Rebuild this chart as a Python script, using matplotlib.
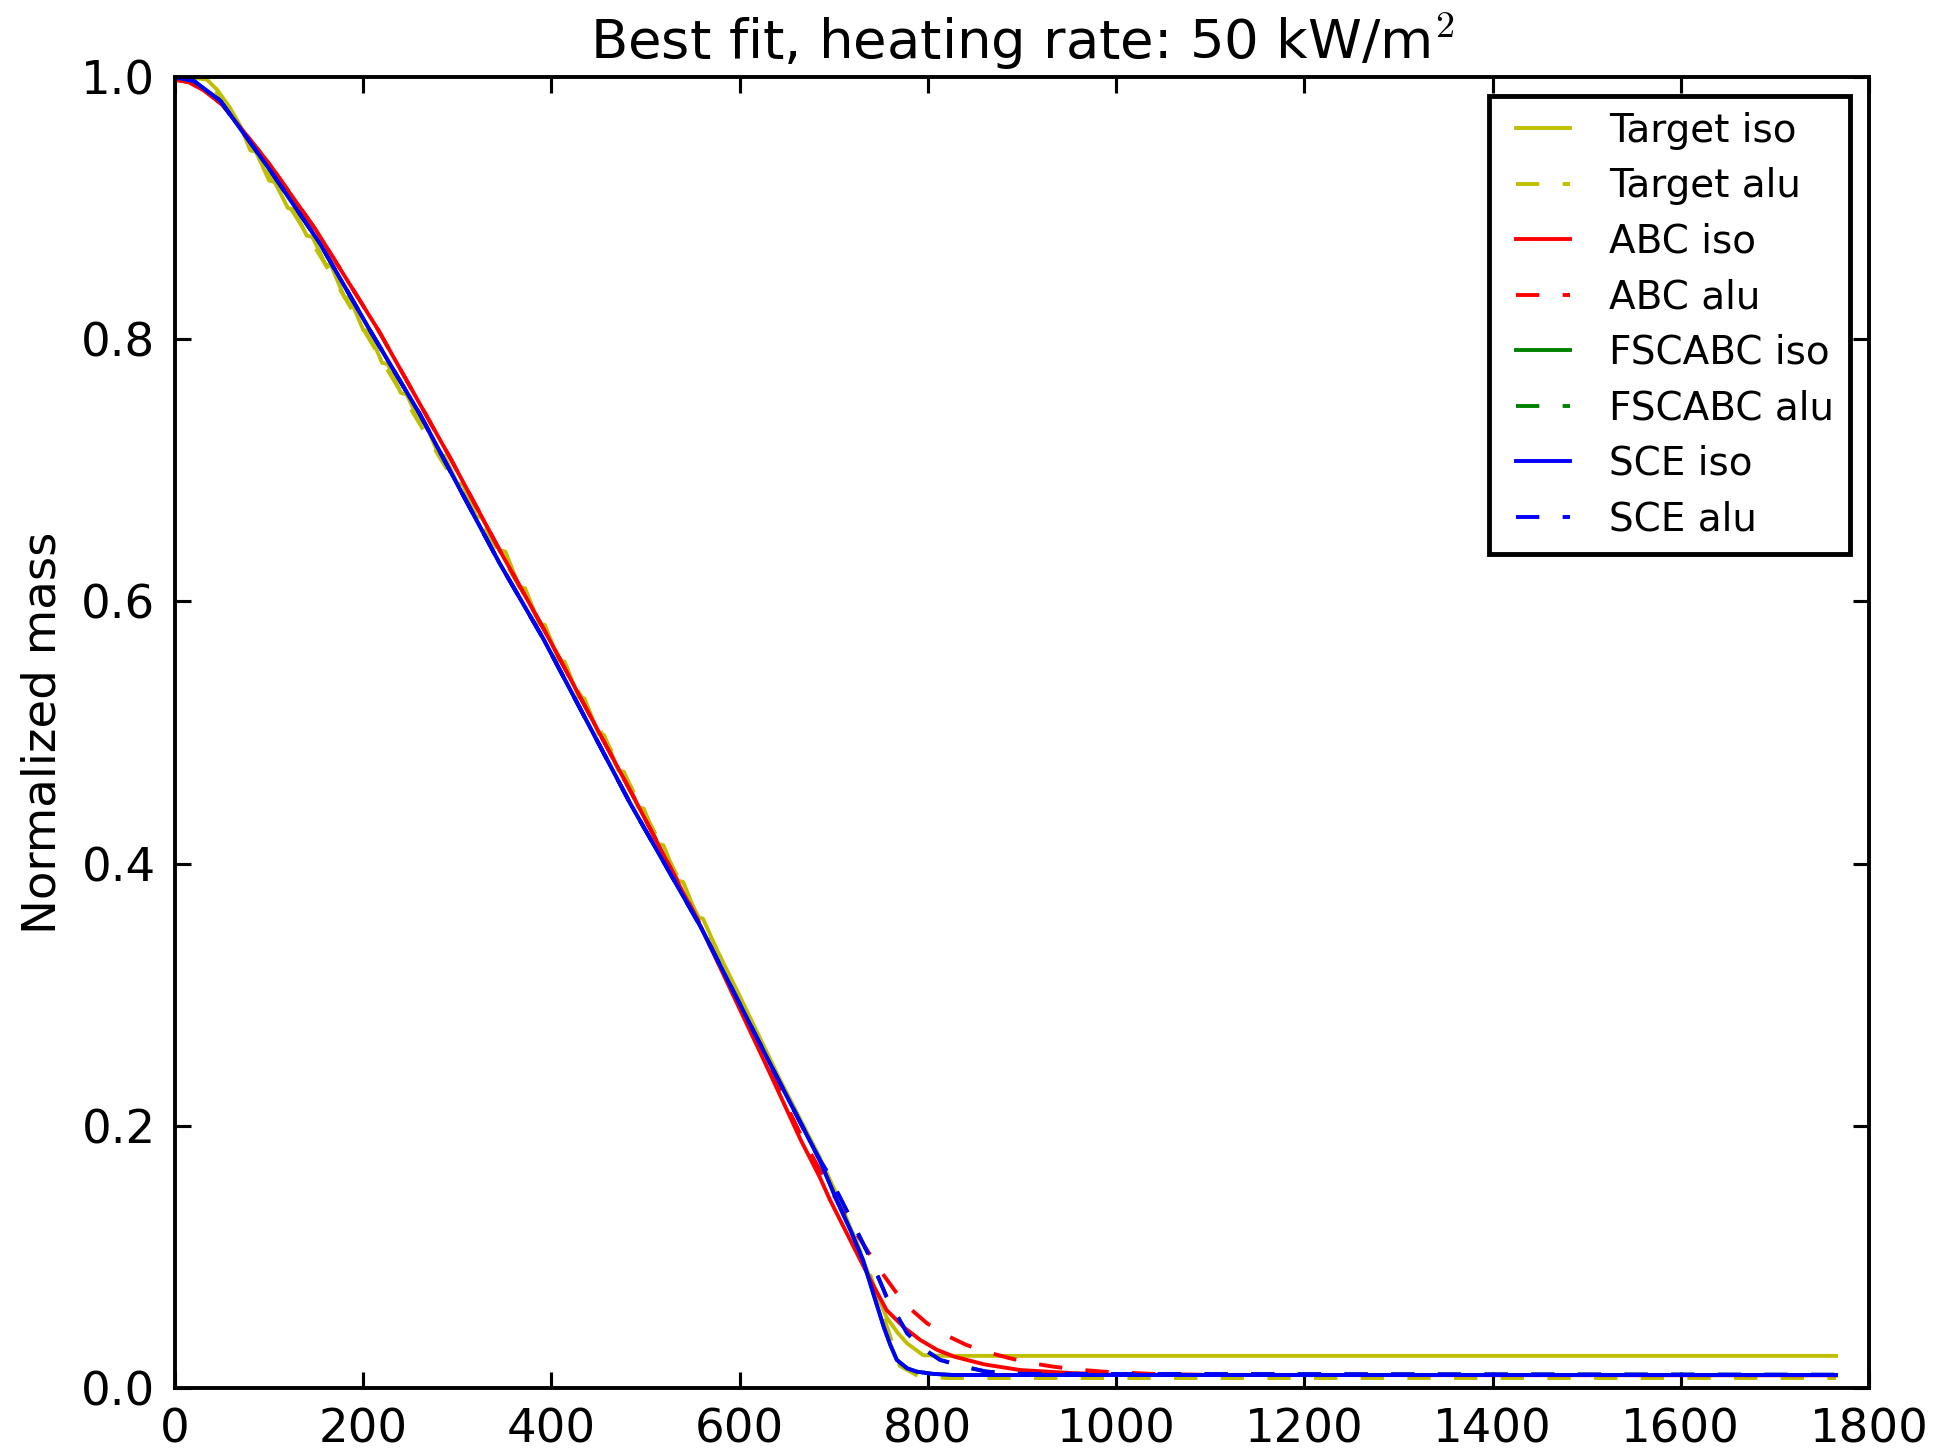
import numpy as np
import matplotlib
matplotlib.use("Agg")
import matplotlib.pyplot as plt
from matplotlib.lines import Line2D
from matplotlib.legend_handler import HandlerLine2D

target_iso_x = [0, 15, 34, 45, 58, 70, 80, 86, 100, 106, 120, 126, 140, 146, 160, 166, 180, 186,
                200, 206, 220, 226, 240, 246, 260, 266, 280, 286, 300, 306, 320, 326,
                345, 351, 366, 372, 387, 393, 408, 414, 429, 435, 450, 456, 471, 477,
                492, 498, 513, 519, 534, 540, 555, 561, 576, 600, 643, 685, 706, 720,
                738, 756, 768, 778, 795, 820, 1765]
target_iso_y = [0.997, 1.0, 0.998, 0.990, 0.977, 0.962, 0.944, 0.943, 0.921, 0.920, 0.900,
                0.899, 0.879, 0.878, 0.857, 0.856, 0.832, 0.831, 0.807, 0.806, 0.782, 0.781,
                0.759, 0.758, 0.737, 0.736, 0.712, 0.711, 0.690, 0.689, 0.665, 0.664,
                0.639, 0.638, 0.611, 0.610, 0.583, 0.582, 0.555, 0.554, 0.527, 0.526,
                0.499, 0.498, 0.471, 0.470, 0.443, 0.442, 0.415, 0.414, 0.387, 0.386,
                0.359, 0.358, 0.334, 0.299, 0.235, 0.176, 0.143, 0.118, 0.085, 0.054,
                0.042, 0.034, 0.025, 0.0245, 0.0245]

target_alu_x = [0, 15, 34, 58, 90, 154, 204, 282, 345, 391, 477, 558, 643, 685, 706, 738, 756,
                770, 790, 820, 1765]
target_alu_y = [0.997, 1.0, 0.997, 0.976, 0.938, 0.864, 0.803, 0.709, 0.637, 0.580, 0.469,
                0.357, 0.234, 0.175, 0.142, 0.088, 0.048, 0.017, 0.009, 0.0076, 0.0076]

abc_iso_x = [0, 15, 30, 50, 100, 150, 216, 292, 345, 391, 489, 560, 629, 665, 685, 696, 721,
             740, 756, 775, 792, 810, 828, 860, 898, 950, 1004, 1765]
abc_iso_y = [0.998, 0.996, 0.990, 0.979, 0.934, 0.883, 0.807, 0.710, 0.639, 0.580, 0.4485,
             0.350, 0.245, 0.189, 0.161, 0.1434, 0.1078, 0.081, 0.0595, 0.046, 0.0366,
             0.029, 0.0239, 0.018, 0.0137, 0.0115, 0.0099, 0.0097]

abc_alu_x = [0, 15, 30, 50, 100, 150, 216, 292, 345, 391, 489, 560, 629, 665, 690, 710, 731,
             750, 767, 782, 799, 820, 841, 865, 887, 910, 933, 960, 986, 1040, 1100, 1765]
abc_alu_y = [0.998, 0.996, 0.990, 0.979, 0.934, 0.883, 0.807, 0.710, 0.639, 0.580, 0.4485,
             0.351, 0.247, 0.193, 0.160, 0.134, 0.110, 0.089, 0.0722, 0.060, 0.0494, 0.040,
             0.0328, 0.027, 0.0227, 0.019, 0.0163, 0.014, 0.0125, 0.0107, 0.0100, 0.0098]

sce_iso_x = [0, 20, 48, 101, 154, 207, 260, 292, 345, 391, 484, 558, 634, 685, 703, 718, 731,
             742, 753, 760, 767, 778, 788, 805, 827, 1765]
sce_iso_y = [1.0, 0.997, 0.982, 0.929, 0.873, 0.807, 0.743, 0.700, 0.629, 0.572, 0.4455,
             0.3525, 0.245, 0.174, 0.1434, 0.120, 0.0976, 0.072, 0.0468, 0.033, 0.0214,
             0.015, 0.0125, 0.0108, 0.0099, 0.0099]

sce_alu_x = [0, 20, 48, 101, 154, 207, 260, 292, 345, 391, 484, 558, 634, 685, 692, 717, 738,
             756, 778, 795, 813, 840, 862, 900, 1765]
sce_alu_y = [1.0, 0.997, 0.982, 0.929, 0.873, 0.807, 0.743, 0.700, 0.629, 0.572, 0.4455,
             0.3525, 0.245, 0.174, 0.166, 0.1307, 0.1002, 0.0696, 0.0417, 0.030, 0.0214,
             0.016, 0.0125, 0.0108, 0.0101]

# FSCABC results sit right under the SCE ones
fscabc_iso_x = sce_iso_x
fscabc_iso_y = sce_iso_y
fscabc_alu_x = sce_alu_x
fscabc_alu_y = sce_alu_y

plt.rcParams['mathtext.fontset'] = 'cm'
plt.rcParams['lines.dashed_pattern'] = [6, 6]
plt.rcParams['lines.scale_dashes'] = False

fig = plt.figure(figsize=(1934 / 280, 1449 / 280), dpi=280)
ax = fig.add_axes([175 / 1934, 1 - 1388 / 1449, 1694 / 1934, 1311 / 1449])

ax.plot(target_iso_x, target_iso_y, color='y', lw=1, label='Target iso')
ax.plot(target_alu_x, target_alu_y, color='y', lw=1, ls='--', label='Target alu')
ax.plot(abc_iso_x, abc_iso_y, color='r', lw=1, label='ABC iso')
ax.plot(abc_alu_x, abc_alu_y, color='r', lw=1, ls='--', label='ABC alu')
ax.plot(fscabc_iso_x, fscabc_iso_y, color='g', lw=1, label='FSCABC iso')
ax.plot(fscabc_alu_x, fscabc_alu_y, color='g', lw=1, ls='--', label='FSCABC alu')
ax.plot(sce_iso_x, sce_iso_y, color='b', lw=1, label='SCE iso')
ax.plot(sce_alu_x, sce_alu_y, color='b', lw=1, ls='--', label='SCE alu')

ax.set_xlim(0, 1800)
ax.set_ylim(0, 1.0)
ax.set_xticks(np.arange(0, 1801, 200))
ax.set_yticks(np.arange(0, 1.01, 0.2))
ax.tick_params(direction='in', top=True, right=True, length=4, width=0.8,
               labelsize=12, pad=5)
for s in ax.spines.values():
    s.set_linewidth(1.0)

ax.set_title(r'Best fit, heating rate: 50 kW/m$^2$', fontsize=14, pad=4.5)
ax.set_ylabel('Normalized mass', fontsize=12)

leg = ax.legend(loc='upper right', fontsize=10, handlelength=1.68, handletextpad=1.0,
                labelspacing=0.45, borderaxespad=0.5, fancybox=False, framealpha=1,
                handler_map={Line2D: HandlerLine2D(xpad=0.28)})
leg.get_frame().set_edgecolor('black')
leg.get_frame().set_linewidth(1.25)

fig.savefig('out.png', dpi=280)
